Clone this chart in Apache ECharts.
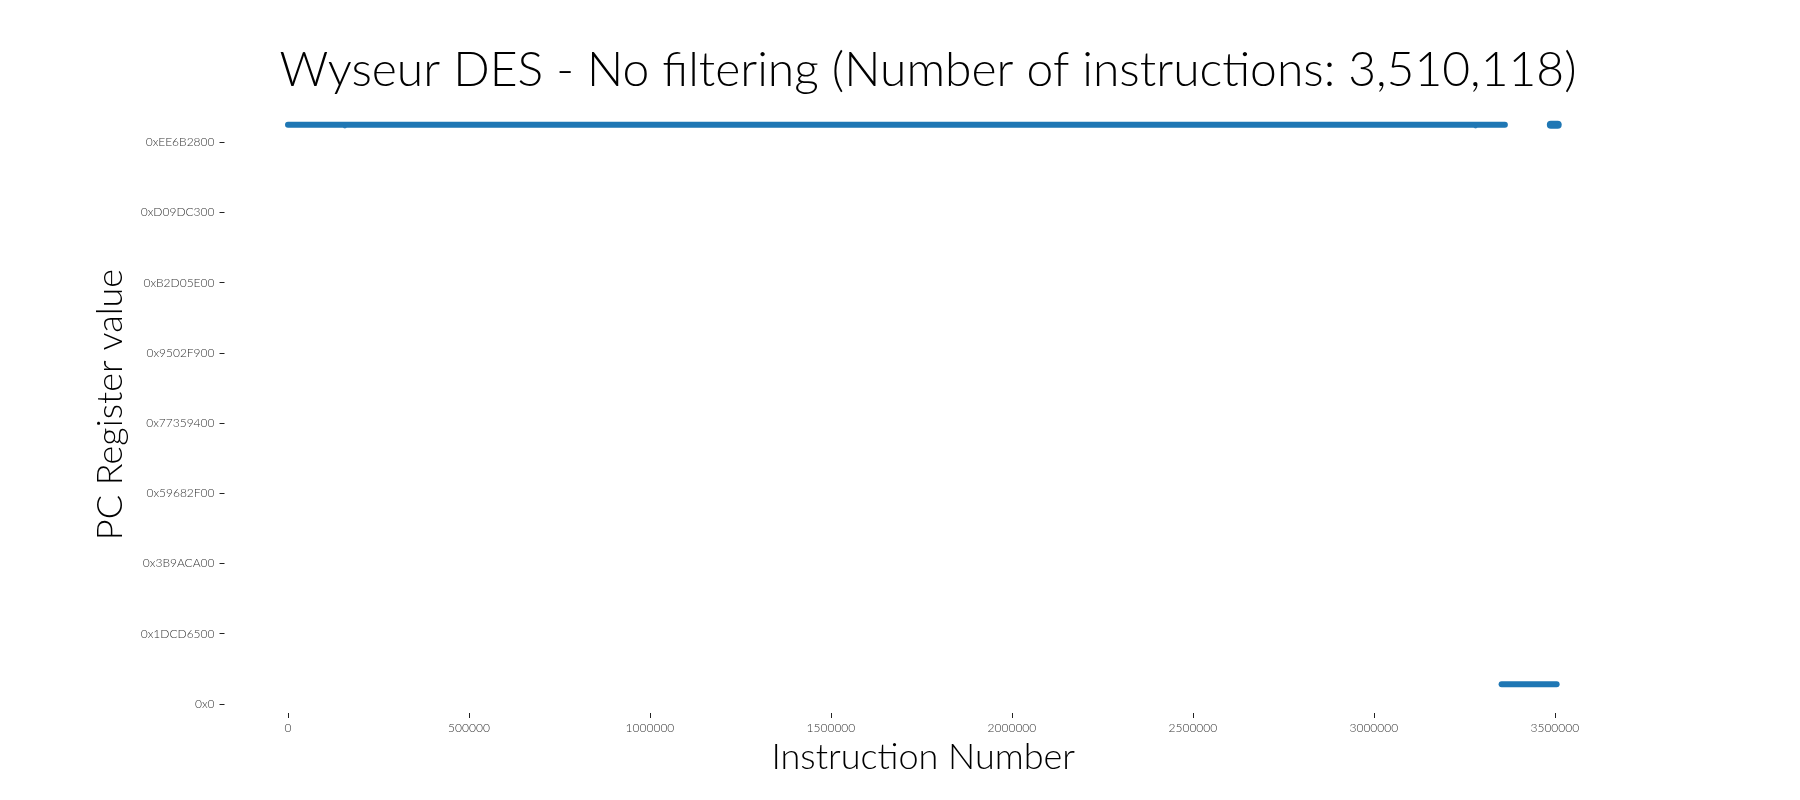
<!DOCTYPE html>
<html>
<head>
<meta charset="utf-8">
<script src="https://cdn.jsdelivr.net/npm/echarts@6/dist/echarts.min.js"></script>
<style>
html,body{margin:0;padding:0;background:#fff;}
#chart{width:1800px;height:800px;}
</style>
</head>
<body>
<div id="chart"></div>
<script>
// Instruction number vs PC register value
const topRun   = [[0, 4126000000], [3362000, 4126000000]];
const tailRun  = [[3489000, 4126000000], [3508000, 4126000000]];
const lowRun   = [[3353000, 140000000], [3505000, 140000000]];
const strayPts = [[157000, 4112000000], [3281000, 4112000000]];

const xTicks = [0, 500000, 1000000, 1500000, 2000000, 2500000, 3000000, 3500000];
const yTicks = [0, 500000000, 1000000000, 1500000000, 2000000000, 2500000000, 3000000000, 3500000000, 4000000000];
const yTickLabels = ['0x0', '0x1DCD6500', '0x3B9ACA00', '0x59682F00', '0x77359400', '0x9502F900', '0xB2D05E00', '0xD09DC300', '0xEE6B2800'];

const FONT = 'Lato';
const BLUE = '#1f77b4';

const chart = echarts.init(document.getElementById('chart'));
const lineSeries = (d, w) => ({
  type: 'line', data: d, showSymbol: false, symbol: 'none', animation: false,
  lineStyle: { color: BLUE, width: w, cap: 'round' }, silent: true
});
chart.setOption({
  animation: false,
  title: {
    text: 'Wyseur DES - No filtering (Number of instructions: 3,510,118)',
    left: 923, top: 42, textAlign: 'center',
    textStyle: { fontFamily: FONT, fontWeight: 300, fontSize: 48, color: '#000' }
  },
  grid: { left: 224.5, right: 178, top: 96, bottom: 87 },
  xAxis: {
    type: 'value', min: -175506, max: 3685624,
    name: 'Instruction Number', nameLocation: 'middle', nameGap: 26,
    nameTextStyle: { fontFamily: FONT, fontWeight: 300, fontSize: 36, color: '#000' },
    axisLine: { show: false, onZero: false },
    splitLine: { show: false },
    axisTick: { show: true, customValues: xTicks, length: 5, lineStyle: { color: '#222', width: 1 } },
    axisLabel: { customValues: xTicks, margin: 9, fontFamily: FONT, fontWeight: 300, fontSize: 12, color: '#333',
      formatter: (v) => String(v) }
  },
  yAxis: {
    type: 'value', min: -65000000, max: 4330000000,
    name: 'PC Register value', nameLocation: 'middle', nameGap: 96,
    nameTextStyle: { fontFamily: FONT, fontWeight: 300, fontSize: 36, color: '#000' },
    axisLine: { show: false, onZero: false },
    splitLine: { show: false },
    axisTick: { show: true, customValues: yTicks, length: 5, lineStyle: { color: '#222', width: 1 } },
    axisLabel: {
      customValues: yTicks, margin: 10, fontFamily: FONT, fontWeight: 300, fontSize: 12, color: '#333',
      formatter: (v) => { const i = yTicks.indexOf(v); return i >= 0 ? yTickLabels[i] : ''; }
    }
  },
  series: [
    lineSeries(topRun, 6),
    lineSeries(tailRun, 8),
    lineSeries(lowRun, 6),
    { type: 'scatter', data: strayPts, symbolSize: 4, itemStyle: { color: BLUE }, silent: true }
  ]
});
</script>
</body>
</html>
